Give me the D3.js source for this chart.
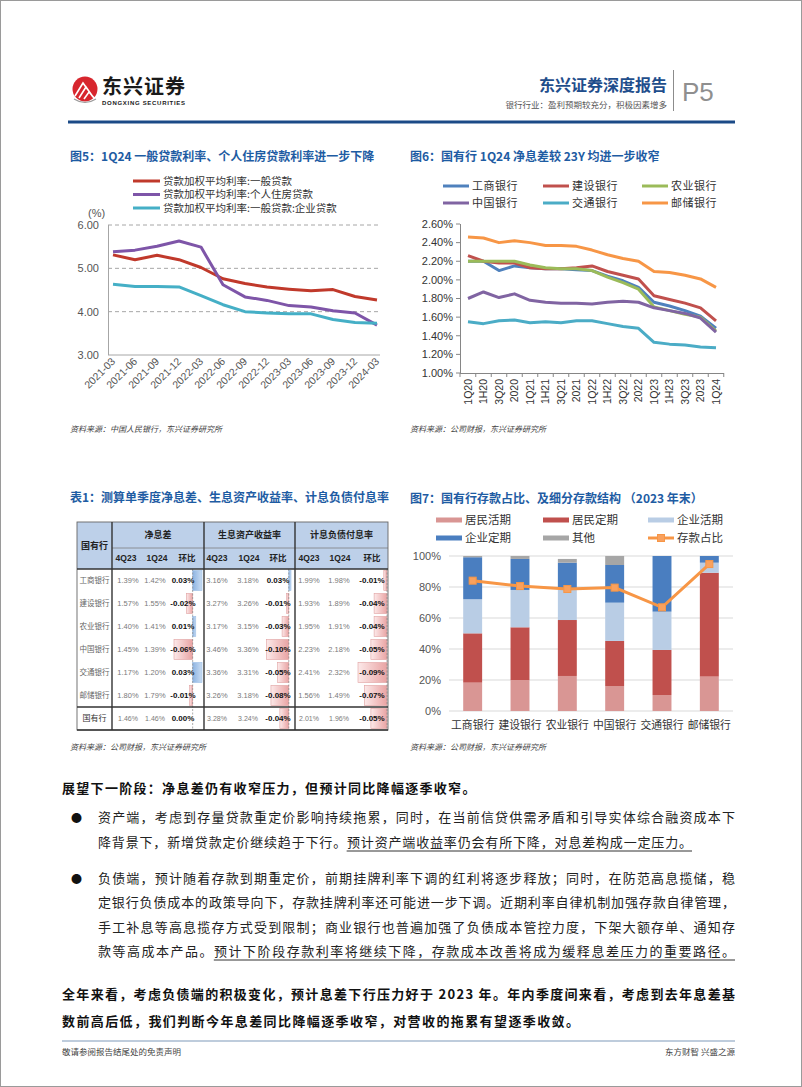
<!DOCTYPE html>
<html><head><meta charset="utf-8">
<script src="https://cdn.jsdelivr.net/npm/d3@7"></script>
<style>body{margin:0;background:#fff}svg{display:block}</style>
</head><body>
<svg id="c" width="802" height="1087"></svg>
<script>
// ---------------- DATA ----------------
// Fig 5
const f5Quarters = ['2021-03','2021-06','2021-09','2021-12','2022-03','2022-06','2022-09','2022-12','2023-03','2023-06','2023-09','2023-12','2024-03'];
const f5General = [5.31,5.20,5.30,5.20,5.02,4.76,4.65,4.57,4.52,4.48,4.51,4.35,4.27];
const f5Housing = [5.38,5.42,5.51,5.63,5.49,4.62,4.34,4.26,4.14,4.11,4.02,3.97,3.69];
const f5Corporate = [4.63,4.58,4.58,4.57,4.37,4.16,4.00,3.97,3.95,3.95,3.82,3.75,3.73];
const f5SeriesNames = ['贷款加权平均利率:一般贷款','贷款加权平均利率:个人住房贷款','贷款加权平均利率:一般贷款:企业贷款'];
const f5YTicks = [3,4,5,6];

// Fig 6
const f6Quarters = ['1Q20','1H20','3Q20','2020','1Q21','1H21','3Q21','2021','1Q22','1H22','3Q22','2022','1Q23','1H23','3Q23','2023','1Q24'];
const f6ICBC  = [2.20,2.20,2.10,2.15,2.13,2.12,2.12,2.11,2.10,2.04,1.99,1.92,1.76,1.72,1.67,1.61,1.48];
const f6CCB   = [2.26,2.20,2.18,2.18,2.13,2.12,2.12,2.13,2.15,2.09,2.05,2.01,1.83,1.79,1.75,1.70,1.56];
const f6ABC   = [2.20,2.20,2.20,2.20,2.16,2.13,2.12,2.12,2.10,2.03,1.97,1.90,1.71,1.67,1.63,1.60,1.45];
const f6BOC   = [1.80,1.87,1.81,1.85,1.78,1.76,1.75,1.75,1.74,1.76,1.77,1.76,1.70,1.67,1.64,1.59,1.44];
const f6BOCOM = [1.55,1.53,1.56,1.57,1.54,1.55,1.54,1.56,1.56,1.53,1.50,1.48,1.33,1.31,1.30,1.28,1.27];
const f6PSBC  = [2.46,2.45,2.40,2.42,2.40,2.37,2.37,2.36,2.32,2.27,2.23,2.20,2.09,2.08,2.05,2.01,1.92];
const f6Banks = ['工商银行','建设银行','农业银行','中国银行','交通银行','邮储银行'];
const f6YTicks = [1.0,1.2,1.4,1.6,1.8,2.0,2.2,2.4,2.6];

// Table 1
const t1Banks = ['工商银行','建设银行','农业银行','中国银行','交通银行','邮储银行','国有行'];
const t1Nim4Q23 = [1.39,1.57,1.40,1.45,1.17,1.80,1.46];
const t1Nim1Q24 = [1.42,1.55,1.41,1.39,1.20,1.79,1.46];
const t1NimQoQ  = [0.03,-0.02,0.01,-0.06,0.03,-0.01,0.00];
const t1Yld4Q23 = [3.16,3.27,3.17,3.46,3.36,3.26,3.28];
const t1Yld1Q24 = [3.18,3.26,3.15,3.36,3.31,3.18,3.24];
const t1YldQoQ  = [0.03,-0.01,-0.03,-0.10,-0.05,-0.08,-0.04];
const t1Cost4Q23 = [1.99,1.93,1.95,2.23,2.41,1.56,2.01];
const t1Cost1Q24 = [1.98,1.89,1.91,2.18,2.32,1.49,1.96];
const t1CostQoQ  = [-0.01,-0.04,-0.04,-0.05,-0.09,-0.07,-0.05];
const t1Groups = ['净息差','生息资产收益率','计息负债付息率'];
const t1SubHeads = ['4Q23','1Q24','环比'];

// Fig 7
const f7Banks = ['工商银行','建设银行','农业银行','中国银行','交通银行','邮储银行'];
const f7HhDemand   = [18.3,20.0,22.6,16.1,10.3,22.2];
const f7HhTime     = [31.8,34.0,36.1,29.1,29.1,67.0];
const f7CorpDemand = [22.0,24.1,20.5,24.7,24.7,6.5];
const f7CorpTime   = [27.1,20.0,16.5,24.3,35.9,4.3];
const f7Other      = [0.8,1.9,2.4,5.8,0.0,0.0];
const f7DepositShare = [84.1,80.6,78.7,79.6,66.9,94.8];
const f7Keys = ['居民活期','居民定期','企业活期','企业定期','其他'];
const f7YTicks = [0,20,40,60,80,100];

// ---------------- DRAW ----------------
const svg = d3.select('#c');
const LAT = '"Liberation Sans", Arial, "Noto Sans CJK SC", sans-serif';
const CJK = '"Noto Sans CJK SC", "Liberation Sans", sans-serif';
function T(g, x, y, s, o = {}) {
  const e = g.append('text').attr('x', x).attr('y', y).text(s)
    .attr('font-family', o.ff || CJK).attr('font-size', o.fs || 12)
    .attr('fill', o.fill || '#222');
  if (o.anchor) e.attr('text-anchor', o.anchor);
  if (o.fw) e.attr('font-weight', o.fw);
  if (o.dy) e.attr('dy', o.dy);
  if (o.ls != null) e.attr('letter-spacing', o.ls);
  if (o.tl) e.attr('textLength', o.tl).attr('lengthAdjust', 'spacing');
  if (o.fst) e.attr('font-style', o.fst);
  if (o.tr) e.attr('transform', o.tr);
  return e;
}

// page frame
svg.append('rect').attr('x',0.5).attr('y',0.5).attr('width',801).attr('height',1086)
  .attr('fill','none').attr('stroke','#9a9a9a');

// ---------- header ----------
const hd = svg.append('g');
hd.append('circle').attr('cx',85).attr('cy',89).attr('r',12.5).attr('fill','#D7262E');
hd.append('path').attr('d','M75,96 L83,83 L88,90 M79,98 L86,87 L93,97 M84,99 L89,92 L95,99')
  .attr('stroke','#fff').attr('stroke-width',1.6).attr('fill','none');
hd.append('path').attr('d','M74,99 Q85,106 96,99').attr('stroke','#9a9a9a').attr('stroke-width',1.2).attr('fill','none');
T(hd,102,94,'东兴证券',{fs:20,fw:'bold',fill:'#1a1a1a',tl:83});
T(hd,102,105,'DONGXING SECURITIES',{ff:LAT,fs:6,fw:'bold',fill:'#1a1a1a',tl:83});
T(hd,667,91,'东兴证券深度报告',{fs:16,fw:'bold',fill:'#1F4E8C',anchor:'end'});
T(hd,667,108,'银行行业：盈利预期较充分，积极因素增多',{fs:8.5,fill:'#555',anchor:'end'});
hd.append('line').attr('x1',673.5).attr('x2',673.5).attr('y1',70).attr('y2',111).attr('stroke','#8c8c8c').attr('stroke-width',1);
T(hd,682,101,'P5',{ff:LAT,fs:26,fill:'#8f8f8f'});
hd.append('rect').attr('x',68).attr('y',120.5).attr('width',667).attr('height',3).attr('fill','#1B4A87');

const TITLE = '#1E5CA3';

// ---------- Fig 5 ----------
const g5 = svg.append('g');
T(g5,70,161,'图5：1Q24 一般贷款利率、个人住房贷款利率进一步下降',{fs:12,fw:'bold',fill:TITLE});
const x5 = d3.scalePoint().domain(f5Quarters).range([113,377]);
const y5 = d3.scaleLinear().domain([3,6]).range([355,225]);
const c5 = ['#C0392B','#7E55A8','#45AFC6'];
f5YTicks.forEach(v => {
  g5.append('line').attr('x1',108).attr('x2',380).attr('y1',y5(v)).attr('y2',y5(v))
    .attr('stroke','#A6A6A6').attr('stroke-width',1).attr('stroke-dasharray', v===3 ? null : '4,3');
  T(g5,99,y5(v),d3.format('.2f')(v),{ff:LAT,fs:11,fill:'#555',anchor:'end',dy:'0.35em'});
});
g5.append('line').attr('x1',108.5).attr('x2',108.5).attr('y1',225).attr('y2',355).attr('stroke','#A6A6A6');
T(g5,88,217,'(%)',{ff:LAT,fs:11,fill:'#555'});
f5Quarters.forEach(q => {
  T(g5,0,0,q,{ff:LAT,fs:10.5,fill:'#555',anchor:'end',tr:`translate(${x5(q)+3},362) rotate(-45)`});
});
const line5 = d3.line().x((d,i)=>x5(f5Quarters[i])).y(d=>y5(d));
[f5General,f5Housing,f5Corporate].forEach((s,k)=>{
  g5.append('path').attr('d',line5(s)).attr('fill','none').attr('stroke',c5[k])
    .attr('stroke-width',3).attr('stroke-linejoin','round');
});
f5SeriesNames.forEach((n,k)=>{
  const yy = 181 + k*13.5;
  g5.append('line').attr('x1',133).attr('x2',160).attr('y1',yy).attr('y2',yy).attr('stroke',c5[k]).attr('stroke-width',3);
  T(g5,163,yy,n,{fs:10.5,fill:'#333',dy:'0.35em'});
});
T(g5,70,432,'资料来源：中国人民银行，东兴证券研究所',{fs:8,fill:'#444',fst:'italic'});

// ---------- Fig 6 ----------
const g6 = svg.append('g');
T(g6,410,161,'图6：国有行 1Q24 净息差较 23Y 均进一步收窄',{fs:12,fw:'bold',fill:TITLE});
const x6 = d3.scalePoint().domain(f6Quarters).range([468,716]);
const y6 = d3.scaleLinear().domain([1.0,2.6]).range([373,224]);
const c6 = ['#4F81BD','#C0504D','#9BBB59','#8064A2','#4BACC6','#F79646'];
g6.append('line').attr('x1',460.5).attr('x2',460.5).attr('y1',224).attr('y2',373).attr('stroke','#868686');
g6.append('line').attr('x1',460).attr('x2',724).attr('y1',373.5).attr('y2',373.5).attr('stroke','#868686');
f6YTicks.forEach(v=>{
  g6.append('line').attr('x1',456).attr('x2',460).attr('y1',y6(v)).attr('y2',y6(v)).attr('stroke','#868686');
  T(g6,453,y6(v),d3.format('.2f')(v)+'%',{ff:LAT,fs:11,fill:'#333',anchor:'end',dy:'0.35em'});
});
const step6 = x6.step();
f6Quarters.forEach((q,i)=>{
  const xb = x6(q) + step6/2;
  g6.append('line').attr('x1',xb).attr('x2',xb).attr('y1',373).attr('y2',377).attr('stroke','#868686');
  T(g6,0,0,q,{ff:LAT,fs:10.5,fill:'#333',anchor:'end',dy:'0.35em',tr:`translate(${x6(q)},379) rotate(-90)`});
});
g6.append('line').attr('x1',460).attr('x2',460).attr('y1',373).attr('y2',377).attr('stroke','#868686');
const line6 = d3.line().x((d,i)=>x6(f6Quarters[i])).y(d=>y6(d));
[f6ICBC,f6CCB,f6ABC,f6BOC,f6BOCOM,f6PSBC].forEach((s,k)=>{
  g6.append('path').attr('d',line6(s)).attr('fill','none').attr('stroke',c6[k])
    .attr('stroke-width',3).attr('stroke-linejoin','round');
});
f6Banks.forEach((n,k)=>{
  const col = k%3, row = Math.floor(k/3);
  const lx = [443,543,642][col], yy = 186 + row*17;
  g6.append('line').attr('x1',lx).attr('x2',lx+26).attr('y1',yy).attr('y2',yy).attr('stroke',c6[k]).attr('stroke-width',3);
  T(g6,lx+29,yy,n,{fs:11,fill:'#333',dy:'0.35em',ls:0.5});
});
T(g6,410,432,'资料来源：公司财报，东兴证券研究所',{fs:8,fill:'#444',fst:'italic'});

// ---------- Table 1 ----------
const gt = svg.append('g');
T(gt,70,502,'表1：测算单季度净息差、生息资产收益率、计息负债付息率',{fs:12,fw:'bold',fill:TITLE});
const defs = svg.append('defs');
const gr = defs.append('linearGradient').attr('id','negG').attr('x1','0').attr('x2','1');
gr.append('stop').attr('offset','0').attr('stop-color','#FCE9E9');
gr.append('stop').attr('offset','1').attr('stop-color','#E9A3A3');
const gb = defs.append('linearGradient').attr('id','posG').attr('x1','0').attr('x2','1');
gb.append('stop').attr('offset','0').attr('stop-color','#8DB4E2');
gb.append('stop').attr('offset','1').attr('stop-color','#C9DCF2');

const tL=77, tR=388, tTop=522, tH1=548, tH2=569, tBot=730;
const rowY = d3.scaleBand().domain(t1Banks).range([tH2,tBot]);
gt.append('rect').attr('x',tL).attr('y',tTop).attr('width',tR-tL).attr('height',tH2-tTop).attr('fill','#BDD0E9');
const grpX = [[112,204],[204,295],[295,388]];
const subX = [[126,157,187],[217,249,278],[309,340,372]];
const valX = [[128,155,183],[217,248,278],[309,339,372]];
t1Groups.forEach((gname,gi)=>{
  T(gt,(grpX[gi][0]+grpX[gi][1])/2,(tTop+tH1)/2,gname,{fs:9,fw:'bold',fill:'#222',anchor:'middle',dy:'0.35em'});
  t1SubHeads.forEach((s,si)=>{
    T(gt,subX[gi][si],(tH1+tH2)/2,s,{fs:8.5,fw:'bold',fill:'#222',anchor:'middle',dy:'0.35em',ff: si<2?LAT:CJK});
  });
});
T(gt,94.5,(tTop+tH2)/2,'国有行',{fs:9,fw:'bold',fill:'#222',anchor:'middle',dy:'0.35em'});

const barScales = [
  d3.scaleLinear().domain([-0.06,0.03]).range([174,202]),
  d3.scaleLinear().domain([-0.10,0.01]).range([266.5,291]).clamp(true),
  d3.scaleLinear().domain([-0.09,0]).range([358,387])
];
const qoq = [t1NimQoQ,t1YldQoQ,t1CostQoQ];
const v4 = [t1Nim4Q23,t1Yld4Q23,t1Cost4Q23];
const v1 = [t1Nim1Q24,t1Yld1Q24,t1Cost1Q24];
const pct = v => v.toFixed(2)+'%';
t1Banks.forEach((b,i)=>{
  const y0 = rowY(b), h = rowY.bandwidth(), cy = y0 + h/2;
  const last = i === t1Banks.length-1;
  for (let gi=0; gi<3; gi++) {
    const v = qoq[gi][i], sc = barScales[gi], z = sc(0);
    if (v !== 0) {
      const xa = Math.min(sc(v), z), w = Math.abs(sc(v)-z);
      gt.append('rect').attr('x',xa).attr('y',y0+1.5).attr('width',w).attr('height',h-3)
        .attr('fill', v<0 ? 'url(#negG)' : 'url(#posG)')
        .attr('stroke', v<0 ? '#E0A0A0' : '#9CBFE6').attr('stroke-width',0.6);
    }
    T(gt,valX[gi][0],cy,pct(v4[gi][i]),{ff:LAT,fs:last?7:7.5,fill:'#7a7a7a',anchor:'middle',dy:'0.35em'});
    T(gt,valX[gi][1],cy,pct(v1[gi][i]),{ff:LAT,fs:last?7:7.5,fill:'#7a7a7a',anchor:'middle',dy:'0.35em'});
    T(gt,valX[gi][2],cy,pct(v),{ff:LAT,fs:8,fw:'bold',fill:'#111',anchor:'middle',dy:'0.35em'});
  }
  T(gt,94.5,cy,b,{fs:last?8:7.5,fill:last?'#333':'#666',anchor:'middle',dy:'0.35em'});
});
barScales.forEach(sc=>{
  gt.append('line').attr('x1',sc(0)).attr('x2',sc(0)).attr('y1',tH2).attr('y2',tBot)
    .attr('stroke','#8a8a8a').attr('stroke-width',0.7).attr('stroke-dasharray','2,1.5');
});
// grid lines
gt.append('line').attr('x1',112).attr('x2',tR).attr('y1',tH1).attr('y2',tH1).attr('stroke','#7f7f7f').attr('stroke-width',0.8);
gt.append('rect').attr('x',tL).attr('y',tTop).attr('width',tR-tL).attr('height',tBot-tTop)
  .attr('fill','none').attr('stroke','#666').attr('stroke-width',0.9);
[tH2, rowY('国有行')].forEach(yy=>{
  gt.append('line').attr('x1',tL).attr('x2',tR).attr('y1',yy).attr('y2',yy).attr('stroke','#333').attr('stroke-width',1.3);
});
[112,204,295].forEach(xx=>{
  gt.append('line').attr('x1',xx).attr('x2',xx).attr('y1',tTop).attr('y2',tBot).attr('stroke','#333').attr('stroke-width',1.4);
});
gt.append('line').attr('x1',tL).attr('x2',tR).attr('y1',tBot).attr('y2',tBot).attr('stroke','#333').attr('stroke-width',1.3);
T(gt,70,750,'资料来源：公司财报，东兴证券研究所',{fs:8,fill:'#444',fst:'italic'});

// ---------- Fig 7 ----------
const g7 = svg.append('g');
T(g7,410,503,'图7：国有行存款占比、及细分存款结构 （2023 年末）',{fs:12,fw:'bold',fill:TITLE});
const x7 = d3.scaleBand().domain(f7Banks).range([449,733]).paddingInner(0.6).paddingOuter(0.3);
const y7 = d3.scaleLinear().domain([0,100]).range([711,556]);
const c7 = ['#D99694','#C0504D','#B9CDE5','#4A7EC0','#A6A6A6'];
f7YTicks.forEach(v=>{
  g7.append('line').attr('x1',449).attr('x2',733).attr('y1',y7(v)).attr('y2',y7(v)).attr('stroke','#D9D9D9');
  T(g7,441,y7(v),v+'%',{ff:LAT,fs:11,fill:'#555',anchor:'end',dy:'0.35em'});
});
const rows7 = f7Banks.map((b,i)=>({bank:b,'居民活期':f7HhDemand[i],'居民定期':f7HhTime[i],'企业活期':f7CorpDemand[i],'企业定期':f7CorpTime[i],'其他':f7Other[i]}));
const stack7 = d3.stack().keys(f7Keys)(rows7);
stack7.forEach((layer,k)=>{
  g7.selectAll(null).data(layer).enter().append('rect')
    .attr('x',d=>x7(d.data.bank)).attr('width',x7.bandwidth())
    .attr('y',d=>y7(d[1])).attr('height',d=>y7(d[0])-y7(d[1])).attr('fill',c7[k]);
});
const line7 = d3.line().x((d,i)=>x7(f7Banks[i])+x7.bandwidth()/2).y(d=>y7(d));
g7.append('path').attr('d',line7(f7DepositShare)).attr('fill','none').attr('stroke','#F79646').attr('stroke-width',3);
g7.selectAll(null).data(f7DepositShare).enter().append('rect')
  .attr('x',(d,i)=>x7(f7Banks[i])+x7.bandwidth()/2-3.5).attr('y',d=>y7(d)-3.5)
  .attr('width',7).attr('height',7).attr('fill','#F9A15E').attr('stroke','#F79646').attr('stroke-width',1);
f7Banks.forEach(b=>{
  T(g7,x7(b)+x7.bandwidth()/2,725,b,{fs:10.8,fill:'#333',anchor:'middle',dy:'0.35em'});
});
const leg7 = [...f7Keys,'存款占比'];
leg7.forEach((n,k)=>{
  const col = k%3, row = Math.floor(k/3);
  const lx = [436,543,648][col], yy = 520 + row*18;
  if (k<5) {
    g7.append('rect').attr('x',lx).attr('y',yy-2.5).attr('width',26).attr('height',5).attr('fill',c7[k]);
  } else {
    g7.append('line').attr('x1',lx).attr('x2',lx+26).attr('y1',yy).attr('y2',yy).attr('stroke','#F79646').attr('stroke-width',3);
    g7.append('rect').attr('x',lx+13-3.5).attr('y',yy-3.5).attr('width',7).attr('height',7).attr('fill','#F9A15E').attr('stroke','#F79646');
  }
  T(g7,lx+29,yy,n,{fs:11.5,fill:'#333',dy:'0.35em'});
});
T(g7,410,750,'资料来源：公司财报，东兴证券研究所',{fs:8,fill:'#444',fst:'italic'});

// ---------- body text ----------
const gx = svg.append('g');
T(gx,62,793,'展望下一阶段：净息差仍有收窄压力，但预计同比降幅逐季收窄。',{fs:13,fw:'bold',fill:'#111',ls:1.3});
const bodyLines = [
  {y:822, s:'资产端，考虑到存量贷款重定价影响持续拖累，同时，在当前信贷供需矛盾和引导实体综合融资成本下', end:735, bullet:true},
  {y:847, s:'降背景下，新增贷款定价继续趋于下行。预计资产端收益率仍会有所下降，对息差构成一定压力。', end:692, ul:18},
  {y:883, s:'负债端，预计随着存款到期重定价，前期挂牌利率下调的红利将逐步释放；同时，在防范高息揽储，稳', end:735, bullet:true},
  {y:907, s:'定银行负债成本的政策导向下，存款挂牌利率还可能进一步下调。近期利率自律机制加强存款自律管理，', end:735},
  {y:932, s:'手工补息等高息揽存方式受到限制；商业银行也普遍加强了负债成本管控力度，下架大额存单、通知存', end:735},
  {y:956, s:'款等高成本产品。预计下阶段存款利率将继续下降，存款成本改善将成为缓释息差压力的重要路径。', end:735, ul:8}
];
bodyLines.forEach(L=>{
  if (L.bullet) T(gx,71,L.y,'●',{fs:11,fill:'#111'});
  T(gx,98,L.y,L.s,{fs:13,fill:'#222',tl:L.end-98});
  if (L.ul) {
    const n = [...L.s].length, pitch = (L.end-98)/n;
    gx.append('line').attr('x1',98+L.ul*pitch).attr('x2',L.end).attr('y1',L.y+4).attr('y2',L.y+4)
      .attr('stroke','#333').attr('stroke-width',1);
  }
});
T(gx,62,999,'全年来看，考虑负债端的积极变化，预计息差下行压力好于 2023 年。年内季度间来看，考虑到去年息差基',{fs:13,fw:'bold',fill:'#111',tl:673});
T(gx,62,1026,'数前高后低，我们判断今年息差同比降幅逐季收窄，对营收的拖累有望逐季收敛。',{fs:13,fw:'bold',fill:'#111',ls:1.4});

// footer
svg.append('line').attr('x1',62).attr('x2',735).attr('y1',1041).attr('y2',1041).attr('stroke','#A9BBD1').attr('stroke-width',1.5);
T(svg,62,1055,'敬请参阅报告结尾处的免责声明',{fs:8.5,fill:'#444'});
T(svg,735,1055,'东方财智 兴盛之源',{fs:8.5,fill:'#444',anchor:'end'});
</script>
</body></html>
